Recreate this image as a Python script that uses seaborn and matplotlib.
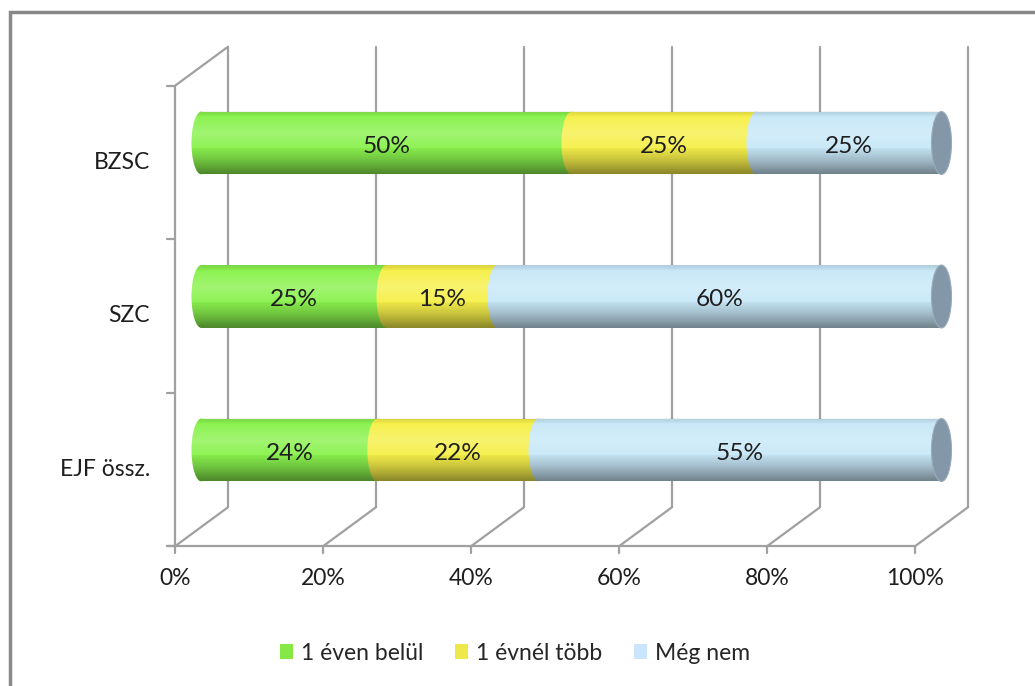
import numpy as np
import pandas as pd
import matplotlib
matplotlib.use("Agg")
import matplotlib.pyplot as plt
from matplotlib.patches import Ellipse, Rectangle, Patch, PathPatch
from matplotlib.path import Path
import seaborn as sns

# ---- data ----
categories = ["BZSC", "SZC", "EJF össz."]
series = ["1 éven belül", "1 évnél több", "Még nem"]
within_1y = [50, 25, 24]
over_1y = [25, 15, 22]
not_yet = [25, 60, 55]
x_ticks = [0, 20, 40, 60, 80, 100]
x_tick_labels = ["0%", "20%", "40%", "60%", "80%", "100%"]

colors = ["#8af24e", "#f6f04a", "#c8e8f8"]
legend_colors = ["#85e845", "#eee84a", "#cce5ff"]
cap_color = "#8497a9"
grid_color = "#a0a0a0"

sns.set_theme(style="white")
plt.rcParams["font.family"] = ["Lato", "DejaVu Sans"]
FS = 16.5
FS_BAR = 17.6

W, H = 1035, 686
fig = plt.figure(figsize=(W / 100, H / 100), dpi=100)
ax = fig.add_axes([0, 0, 1, 1])

# pixel mapping (layout)
PX_PER_PCT = 7.4
X0_PX = 201.5        # 0% at mid depth
PX_PER_CAT = 153.5
Y0_PX = 143.0        # first category centre at mid depth
xlim = ((0 - X0_PX) / PX_PER_PCT, (W - X0_PX) / PX_PER_PCT)
ylim = ((H - Y0_PX) / PX_PER_CAT, (0 - Y0_PX) / PX_PER_CAT)
hdx = 26.5 / PX_PER_PCT   # half depth in x
hdy = 19.5 / PX_PER_CAT   # half depth in y
bar_h = 0.41
cap_w = 20 / PX_PER_PCT

# ---- stacked values (100% stacked) ----
vals = np.array([within_1y, over_1y, not_yet], dtype=float)
shares = vals / vals.sum(axis=0) * 100
cum = np.cumsum(shares, axis=0)
starts = cum - shares

# ---- walls / grid ----
n = len(categories)
front_top, front_floor = -0.5 + hdy, n - 0.5 + hdy
back_top, back_floor = -0.5 - hdy, n - 0.5 - hdy
lw = 1.6
for t in x_ticks:
    ax.plot([t + hdx, t + hdx], [back_floor, back_top], color=grid_color, lw=lw, zorder=1)
    ax.plot([t - hdx, t + hdx], [front_floor, back_floor], color=grid_color, lw=lw, zorder=1)
    ax.plot([t - hdx, t - hdx], [front_floor, front_floor + 7 / PX_PER_CAT], color=grid_color, lw=lw, zorder=1)
tick_len = 8 / PX_PER_PCT
ax.plot([-hdx - tick_len, 100 - hdx], [front_floor, front_floor], color=grid_color, lw=lw, zorder=1)
ax.plot([-hdx, -hdx], [front_floor, front_top], color=grid_color, lw=lw, zorder=1)
ax.plot([-hdx, hdx], [front_top, back_top], color=grid_color, lw=lw, zorder=1)
for b in np.arange(n + 1) - 0.5 + hdy:
    ax.plot([-hdx - tick_len, -hdx], [b, b], color=grid_color, lw=lw, zorder=1)

# ---- bars via seaborn (drawn largest cumulative first) ----
for k in range(len(series) - 1, -1, -1):
    df = pd.DataFrame({"cat": categories, "end": cum[k]})
    sns.barplot(data=df, x="end", y="cat", orient="h", order=categories,
                color=colors[k], width=bar_h, linewidth=0, saturation=1,
                errorbar=None, ax=ax, zorder=3)

# left bulges of each segment
for i in range(n):
    for k in range(len(series)):
        e = Ellipse((starts[k, i], i), cap_w, bar_h, facecolor=colors[k],
                    edgecolor="none", zorder=4)
        ax.add_patch(e)

# cylinder shading overlay
prof_y = np.linspace(0, 1, 200)
ov = np.zeros((200, 1, 4))
white = np.clip(1 - np.abs(prof_y - 0.35) / 0.3, 0, 1) * 0.2
dark = np.clip((prof_y - 0.5) / 0.5, 0, 1) ** 1.4 * 0.45
top_dark = np.clip((0.1 - prof_y) / 0.1, 0, 1) * 0.12
is_white = white > dark + top_dark
ov[:, 0, 0] = np.where(is_white, 1.0, 0.0)
ov[:, 0, 1] = ov[:, 0, 0]
ov[:, 0, 2] = ov[:, 0, 0]
ov[:, 0, 3] = np.maximum(white, dark + top_dark)
theta = np.linspace(np.pi / 2, 3 * np.pi / 2, 60)
for i in range(n):
    xs = list(starts[0, i] + cap_w / 2 * np.cos(theta)) + [cum[-1, i], cum[-1, i]]
    ys = list(i + bar_h / 2 * np.sin(theta)) + [i - bar_h / 2, i + bar_h / 2]
    verts = list(zip(xs, ys)) + [(xs[0], ys[0])]
    clip = PathPatch(Path(verts, closed=True), transform=ax.transData, facecolor="none",
                     edgecolor="none")
    im = ax.imshow(ov, extent=(-cap_w, 100 + cap_w, i + bar_h / 2, i - bar_h / 2),
                   origin="upper", aspect="auto", zorder=5, interpolation="bilinear")
    im.set_clip_path(clip)
    ax.add_patch(Ellipse((cum[-1, i], i), cap_w, bar_h, facecolor=cap_color,
                         edgecolor="#9aabb9", lw=0.8, zorder=6))

# value labels
for i in range(n):
    for k in range(len(series)):
        ax.text(starts[k, i] + shares[k, i] / 2, i + 0.02, f"{vals[k, i]:.0f}%",
                ha="center", va="center", fontsize=FS_BAR, color="#1e1e1e", zorder=7)

# category labels
for i, c in enumerate(categories):
    ax.text((150 - X0_PX) / PX_PER_PCT, i + hdy, c, ha="right", va="center",
            fontsize=FS, color="#1e1e1e")
# x tick labels
for t, lab in zip(x_ticks, x_tick_labels):
    ax.text(t - hdx, front_floor + 32 / PX_PER_CAT, lab, ha="center", va="center",
            fontsize=FS, color="#1e1e1e")

ax.set_xlim(*xlim)
ax.set_ylim(*ylim)
ax.axis("off")

fig.add_artist(Rectangle((10 / W, -0.05), 1.2, 1 - 12 / H + 0.05, transform=fig.transFigure,
                         fill=False, edgecolor="#888888", lw=2.5))

handles = [Patch(facecolor=c, edgecolor="none") for c in legend_colors]
fig.legend(handles, series, loc="center", bbox_to_anchor=(515 / W, 1 - 653 / H), ncol=3,
           frameon=False, fontsize=FS, handlelength=0.6, handleheight=0.6,
           handletextpad=0.35, columnspacing=1.35)

fig.savefig("out.png", dpi=100)
